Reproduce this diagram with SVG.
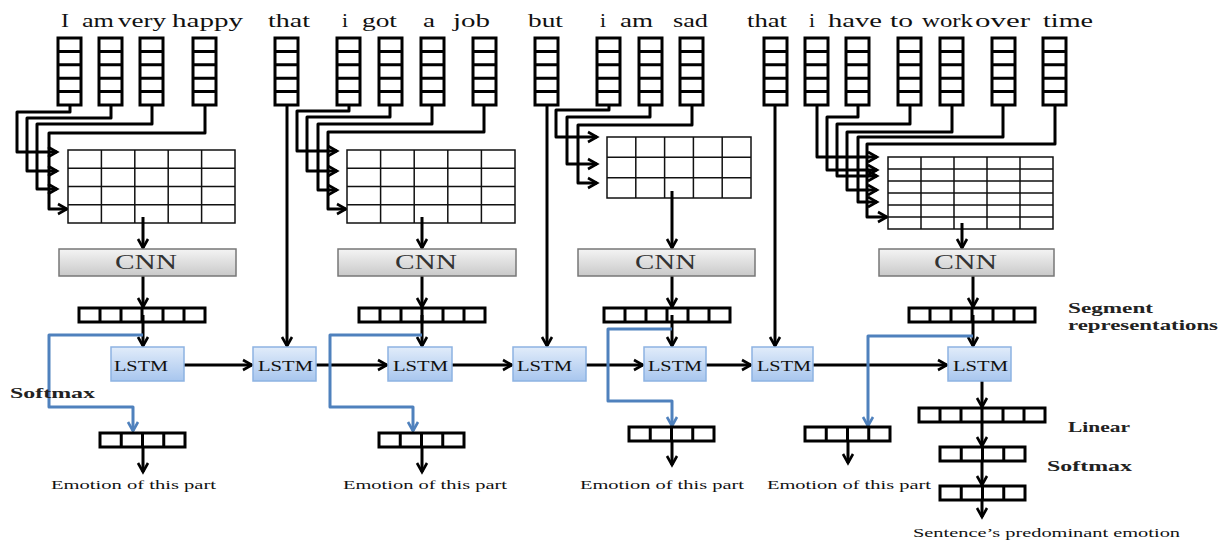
<svg xmlns="http://www.w3.org/2000/svg" xmlns:xlink="http://www.w3.org/1999/xlink" width="1226" height="542" viewBox="0 0 1226 542">
<style>
text{font-family:"Liberation Serif","Times New Roman",serif;fill:#111}
.w{font-size:18px}
.cnnT{font-size:20px;fill:#333}
.lT{font-size:14px}
.em{font-size:13px}
.lab{font-size:14px;font-weight:bold;fill:#222}
.c{fill:none;stroke:#000;stroke-width:3;stroke-linejoin:round}
.b{fill:none;stroke:#4f81bd;stroke-width:3;stroke-linejoin:round}
.mx{fill:#fff;stroke:#111;stroke-width:1.5}
.vec{fill:#fff;stroke:#000;stroke-width:3}
.cnn{fill:url(#gg);stroke:#777;stroke-width:1.5}
.lstm{fill:url(#bg);stroke:#8db3e2;stroke-width:1.5}
</style>
<defs>
<linearGradient id="gg" x1="0" y1="0" x2="0" y2="1"><stop offset="0" stop-color="#f4f4f4"/><stop offset="1" stop-color="#c9c9c9"/></linearGradient>
<linearGradient id="bg" x1="0" y1="0" x2="0" y2="1"><stop offset="0" stop-color="#e1ecfa"/><stop offset="1" stop-color="#a8c6ee"/></linearGradient>
<marker id="a" markerUnits="userSpaceOnUse" markerWidth="14" markerHeight="14" refX="11" refY="7" orient="auto"><path d="M2,2 L11,7 L2,12" fill="none" stroke="#000" stroke-width="2.6"/></marker>
<marker id="ab" markerUnits="userSpaceOnUse" markerWidth="14" markerHeight="14" refX="11" refY="7" orient="auto"><path d="M2,2 L11,7 L2,12" fill="none" stroke="#4f81bd" stroke-width="2.6"/></marker>
<g id="wv"><rect x="0" y="0" width="23" height="67" class="vec"/><path d="M0,13.4H23M0,26.8H23M0,40.2H23M0,53.6H23" stroke="#000" stroke-width="3"/></g>
<g id="sv"><rect x="0" y="0" width="126" height="14" class="vec"/><path d="M21,0V14M42,0V14M63,0V14M84,0V14M105,0V14" stroke="#000" stroke-width="3"/></g>
<g id="ov"><rect x="0" y="0" width="85" height="14" class="vec"/><path d="M21.25,0V14M42.5,0V14M63.75,0V14" stroke="#000" stroke-width="3"/></g>
</defs>
<rect width="1226" height="542" fill="#fff"/>

<g id="words">
<text class="w" x="61" y="27" textLength="8" lengthAdjust="spacingAndGlyphs">I</text>
<text class="w" x="82" y="27" textLength="32" lengthAdjust="spacingAndGlyphs">am</text>
<text class="w" x="118" y="27" textLength="48" lengthAdjust="spacingAndGlyphs">very</text>
<text class="w" x="172" y="27" textLength="71" lengthAdjust="spacingAndGlyphs">happy</text>
<text class="w" x="268" y="27" textLength="42" lengthAdjust="spacingAndGlyphs">that</text>
<text class="w" x="342" y="27" textLength="6" lengthAdjust="spacingAndGlyphs">i</text>
<text class="w" x="362" y="27" textLength="35" lengthAdjust="spacingAndGlyphs">got</text>
<text class="w" x="423" y="27" textLength="12" lengthAdjust="spacingAndGlyphs">a</text>
<text class="w" x="453" y="27" textLength="37" lengthAdjust="spacingAndGlyphs">job</text>
<text class="w" x="528" y="27" textLength="35" lengthAdjust="spacingAndGlyphs">but</text>
<text class="w" x="600" y="27" textLength="6" lengthAdjust="spacingAndGlyphs">i</text>
<text class="w" x="620" y="27" textLength="33" lengthAdjust="spacingAndGlyphs">am</text>
<text class="w" x="673" y="27" textLength="35" lengthAdjust="spacingAndGlyphs">sad</text>
<text class="w" x="747" y="27" textLength="40" lengthAdjust="spacingAndGlyphs">that</text>
<text class="w" x="809" y="27" textLength="6" lengthAdjust="spacingAndGlyphs">i</text>
<text class="w" x="828" y="27" textLength="54" lengthAdjust="spacingAndGlyphs">have</text>
<text class="w" x="890" y="27" textLength="23" lengthAdjust="spacingAndGlyphs">to</text>
<text class="w" x="922" y="27" textLength="51" lengthAdjust="spacingAndGlyphs">work</text>
<text class="w" x="975" y="27" textLength="55" lengthAdjust="spacingAndGlyphs">over</text>
<text class="w" x="1043" y="27" textLength="50" lengthAdjust="spacingAndGlyphs">time</text>
</g>

<g id="connectors">
<!-- group 1 -->
<path class="c" marker-end="url(#a)" d="M70,105V112H17V152H57"/>
<path class="c" marker-end="url(#a)" d="M111,105V118H27V171H57"/>
<path class="c" marker-end="url(#a)" d="M152,105V124H37V189H57"/>
<path class="c" marker-end="url(#a)" d="M205,105V133H49V209H67"/>
<!-- group 2 -->
<path class="c" marker-end="url(#a)" d="M349,105V111H297V151H337"/>
<path class="c" marker-end="url(#a)" d="M390,105V117H307V171H337"/>
<path class="c" marker-end="url(#a)" d="M432,105V124H318V190H337"/>
<path class="c" marker-end="url(#a)" d="M484,105V132H328V209H346"/>
<!-- group 3 -->
<path class="c" marker-end="url(#a)" d="M609,105V110H556V137H597"/>
<path class="c" marker-end="url(#a)" d="M650,105V117H567V164H597"/>
<path class="c" marker-end="url(#a)" d="M692,105V125H578V183H597"/>
<!-- group 4 -->
<path class="c" marker-end="url(#a)" d="M817,105V157H877"/>
<path class="c" marker-end="url(#a)" d="M858,105V117H827V170H877"/>
<path class="c" marker-end="url(#a)" d="M910,105V124H837V176H877"/>
<path class="c" marker-end="url(#a)" d="M952,105V132H847V190H877"/>
<path class="c" marker-end="url(#a)" d="M1003,105V137H858V202H877"/>
<path class="c" marker-end="url(#a)" d="M1055,105V144H867V217H887"/>
<!-- direct words to LSTM -->
<path class="c" marker-end="url(#a)" d="M287,105V346"/>
<path class="c" marker-end="url(#a)" d="M547,105V346"/>
<path class="c" marker-end="url(#a)" d="M775,105V346"/>
</g>

<g id="matrices">
<g id="m1"><rect class="mx" x="68" y="150" width="167" height="73"/><path class="mx" d="M68,168.25H235M68,186.5H235M68,204.75H235M101.4,150V223M134.8,150V223M168.2,150V223M201.6,150V223"/></g>
<g id="m2"><rect class="mx" x="347" y="150" width="168" height="73"/><path class="mx" d="M347,168.25H515M347,186.5H515M347,204.75H515M380.6,150V223M414.2,150V223M447.8,150V223M481.4,150V223"/></g>
<g id="m3"><rect class="mx" x="607" y="137" width="144" height="61"/><path class="mx" d="M607,157.3H751M607,177.7H751M635.8,137V198M664.6,137V198M693.4,137V198M722.2,137V198"/></g>
<g id="m4"><rect class="mx" x="888" y="157" width="165" height="72"/><path class="mx" d="M888,169H1053M888,181H1053M888,193H1053M888,205H1053M888,217H1053M921,157V229M954,157V229M987,157V229M1020,157V229"/></g>
</g>

<g id="wordvectors">
<use href="#wv" x="58" y="38"/><use href="#wv" x="99" y="38"/><use href="#wv" x="140" y="38"/><use href="#wv" x="193" y="38"/>
<use href="#wv" x="275" y="38"/><use href="#wv" x="337" y="38"/><use href="#wv" x="379" y="38"/><use href="#wv" x="421" y="38"/><use href="#wv" x="473" y="38"/>
<use href="#wv" x="535" y="38"/><use href="#wv" x="597" y="38"/><use href="#wv" x="639" y="38"/><use href="#wv" x="680" y="38"/>
<use href="#wv" x="764" y="38"/><use href="#wv" x="805" y="38"/><use href="#wv" x="846" y="38"/><use href="#wv" x="898" y="38"/><use href="#wv" x="940" y="38"/><use href="#wv" x="992" y="38"/><use href="#wv" x="1043" y="38"/>
</g>

<g id="connectors2">
<path class="c" marker-end="url(#a)" d="M143,217V248"/>
<path class="c" marker-end="url(#a)" d="M422,217V248"/>
<path class="c" marker-end="url(#a)" d="M672,191V248"/>
<path class="c" marker-end="url(#a)" d="M962,223V248"/>
<path class="c" marker-end="url(#a)" d="M143,276V307"/>
<path class="c" marker-end="url(#a)" d="M422,276V307"/>
<path class="c" marker-end="url(#a)" d="M672,276V307"/>
<path class="c" marker-end="url(#a)" d="M973,276V307"/>
</g>

<g id="cnn1"><rect class="cnn" x="59" y="249" width="177" height="27"/><text class="cnnT" x="115" y="269" textLength="62" lengthAdjust="spacingAndGlyphs">CNN</text></g>
<g id="cnn2"><rect class="cnn" x="338" y="249" width="178" height="27"/><text class="cnnT" x="395" y="269" textLength="62" lengthAdjust="spacingAndGlyphs">CNN</text></g>
<g id="cnn3"><rect class="cnn" x="578" y="249" width="177" height="27"/><text class="cnnT" x="635" y="269" textLength="61" lengthAdjust="spacingAndGlyphs">CNN</text></g>
<g id="cnn4"><rect class="cnn" x="879" y="249" width="175" height="27"/><text class="cnnT" x="934" y="269" textLength="63" lengthAdjust="spacingAndGlyphs">CNN</text></g>

<g id="segvecs">
<use href="#sv" x="79" y="308"/>
<use href="#sv" x="359" y="308"/>
<use href="#sv" x="604" y="308"/>
<use href="#sv" x="909" y="308"/>
</g>

<g id="connectors3">
<path class="c" marker-end="url(#a)" d="M143,315V346"/>
<path class="c" marker-end="url(#a)" d="M422,315V346"/>
<path class="c" marker-end="url(#a)" d="M672,315V346"/>
<path class="c" marker-end="url(#a)" d="M973,315V346"/>
<path class="c" marker-end="url(#a)" d="M184,365H252"/>
<path class="c" marker-end="url(#a)" d="M316,365H387"/>
<path class="c" marker-end="url(#a)" d="M452,365H512"/>
<path class="c" marker-end="url(#a)" d="M586,365H643"/>
<path class="c" marker-end="url(#a)" d="M706,365H751"/>
<path class="c" marker-end="url(#a)" d="M813,365H947"/>
<path class="b" marker-end="url(#ab)" d="M143,335H49V407H133V431"/>
<path class="b" marker-end="url(#ab)" d="M422,335H330V407H413V431"/>
<path class="b" marker-end="url(#ab)" d="M672,329H608V401H672V426"/>
<path class="b" marker-end="url(#ab)" d="M973,336H868V426"/>
<path class="c" marker-end="url(#a)" d="M143,440V472"/>
<path class="c" marker-end="url(#a)" d="M422,440V472"/>
<path class="c" marker-end="url(#a)" d="M672,434V465"/>
<path class="c" marker-end="url(#a)" d="M848,434V463"/>
<path class="c" marker-end="url(#a)" d="M982,381V407"/>
<path class="c" marker-end="url(#a)" d="M982,414V446"/>
<path class="c" marker-end="url(#a)" d="M982,453V485"/>
<path class="c" marker-end="url(#a)" d="M982,492V517"/>
</g>

<g id="lstm1"><rect class="lstm" x="111" y="347" width="73" height="34"/><text class="lT" x="114" y="371" textLength="54" lengthAdjust="spacingAndGlyphs">LSTM</text></g>
<g id="lstm2"><rect class="lstm" x="253" y="347" width="63" height="34"/><text class="lT" x="258" y="371" textLength="55" lengthAdjust="spacingAndGlyphs">LSTM</text></g>
<g id="lstm3"><rect class="lstm" x="388" y="347" width="64" height="34"/><text class="lT" x="393" y="371" textLength="55" lengthAdjust="spacingAndGlyphs">LSTM</text></g>
<g id="lstm4"><rect class="lstm" x="513" y="347" width="73" height="34"/><text class="lT" x="517" y="371" textLength="55" lengthAdjust="spacingAndGlyphs">LSTM</text></g>
<g id="lstm5"><rect class="lstm" x="644" y="347" width="62" height="34"/><text class="lT" x="648" y="371" textLength="54" lengthAdjust="spacingAndGlyphs">LSTM</text></g>
<g id="lstm6"><rect class="lstm" x="752" y="347" width="61" height="34"/><text class="lT" x="757" y="371" textLength="54" lengthAdjust="spacingAndGlyphs">LSTM</text></g>
<g id="lstm7"><rect class="lstm" x="948" y="347" width="63" height="34"/><text class="lT" x="953" y="371" textLength="55" lengthAdjust="spacingAndGlyphs">LSTM</text></g>

<g id="outvecs">
<use href="#ov" x="100" y="433"/>
<use href="#ov" x="379" y="433"/>
<use href="#ov" x="629" y="427"/>
<use href="#ov" x="805" y="427"/>
<use href="#sv" x="919" y="408"/>
<use href="#ov" x="940" y="447"/>
<use href="#ov" x="940" y="486"/>
</g>

<g id="labels">
<text class="lab" x="10" y="398" textLength="85" lengthAdjust="spacingAndGlyphs">Softmax</text>
<text class="lab" x="1068" y="313" textLength="85" lengthAdjust="spacingAndGlyphs">Segment</text>
<text class="lab" x="1068" y="330" textLength="150" lengthAdjust="spacingAndGlyphs">representations</text>
<text class="lab" x="1068" y="432" textLength="62" lengthAdjust="spacingAndGlyphs">Linear</text>
<text class="lab" x="1047" y="471" textLength="85" lengthAdjust="spacingAndGlyphs">Softmax</text>
<text class="em" x="51" y="489" textLength="165" lengthAdjust="spacingAndGlyphs">Emotion of this part</text>
<text class="em" x="343" y="489" textLength="164" lengthAdjust="spacingAndGlyphs">Emotion of this part</text>
<text class="em" x="580" y="489" textLength="164" lengthAdjust="spacingAndGlyphs">Emotion of this part</text>
<text class="em" x="767" y="489" textLength="164" lengthAdjust="spacingAndGlyphs">Emotion of this part</text>
<text class="em" x="913" y="537" textLength="267" lengthAdjust="spacingAndGlyphs">Sentence’s predominant emotion</text>
</g>
</svg>
